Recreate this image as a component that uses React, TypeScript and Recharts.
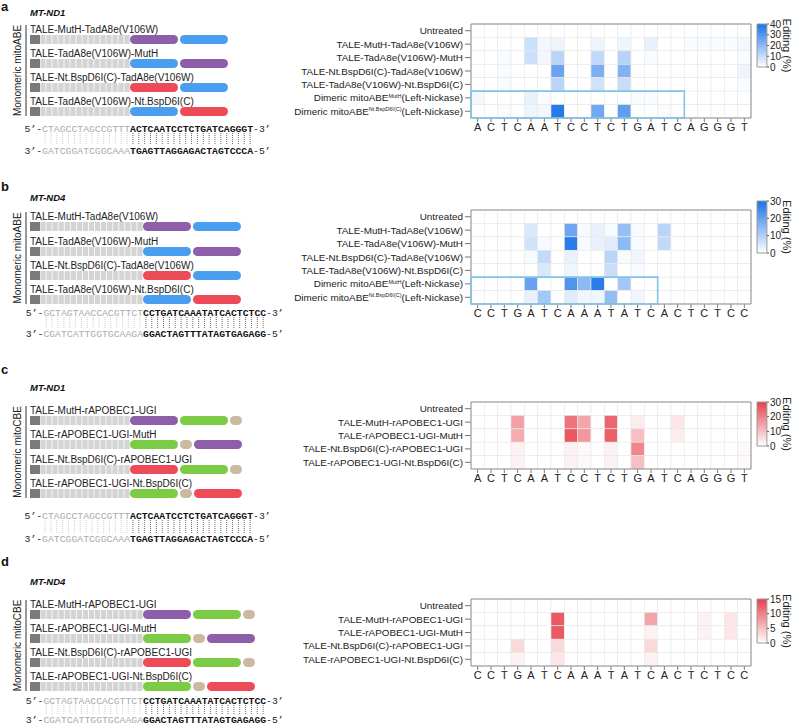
import React from 'react';
import { ScatterChart, Scatter, XAxis, YAxis, ReferenceArea, BarChart, Bar } from 'recharts';

const FONT = '"Liberation Sans", Arial, sans-serif';
const MONO = '"Liberation Mono", "DejaVu Sans Mono", monospace';

// target bases shown under the heatmaps
const basesND1 = ['A', 'C', 'T', 'C', 'A', 'A', 'T', 'C', 'C', 'T', 'C', 'T', 'G', 'A', 'T', 'C', 'A', 'G', 'G', 'G', 'T'];
const basesND4 = ['C', 'C', 'T', 'G', 'A', 'T', 'C', 'A', 'A', 'A', 'T', 'A', 'T', 'C', 'A', 'C', 'T', 'C', 'T', 'C', 'C'];

// row labels ("|" marks the superscript part)
const abeRows = [
  'Untreated',
  'TALE-MutH-TadA8e(V106W)',
  'TALE-TadA8e(V106W)-MutH',
  'TALE-Nt.BspD6I(C)-TadA8e(V106W)',
  'TALE-TadA8e(V106W)-Nt.BspD6I(C)',
  'Dimeric mitoABE|MutH|(Left-Nickase)',
  'Dimeric mitoABE|Nt.BspD6I(C)|(Left-Nickase)',
];
const cbeRows = [
  'Untreated',
  'TALE-MutH-rAPOBEC1-UGI',
  'TALE-rAPOBEC1-UGI-MutH',
  'TALE-Nt.BspD6I(C)-rAPOBEC1-UGI',
  'TALE-rAPOBEC1-UGI-Nt.BspD6I(C)',
];

// domain order of the monomeric constructs
const abeDomains = [['MutH', 'TadA8e'], ['TadA8e', 'MutH'], ['Nt', 'TadA8e'], ['TadA8e', 'Nt']];
const cbeDomains = [['MutH', 'APOBEC', 'UGI'], ['APOBEC', 'UGI', 'MutH'], ['Nt', 'APOBEC', 'UGI'], ['APOBEC', 'UGI', 'Nt']];

// sequences: [TALE-bound part, target window]
const nd1Top = ['CTAGCCTAGCCGTTT', 'ACTCAATCCTCTGATCAGGGT'];
const nd1Bottom = ['GATCGGATCGGCAAA', 'TGAGTTAGGAGACTAGTCCCA'];
const nd4Top = ['GCTAGTAACCACGTTCT', 'CCTGATCAAATATCACTCTCC'];
const nd4Bottom = ['CGATCATTGGTGCAAGA', 'GGACTAGTTTATAGTGAGAGG'];

// editing (%) per row, per base
const editA = [
  [0, 0, 0, 0, 0, 0, 0, 0, 0, 0, 0, 0, 0, 0, 0, 0, 0, 0, 0, 0, 0],
  [0, 0, 0, 0, 9, 2, 3, 0, 0, 3, 0, 3, 0, 4, 0, 0, 1, 1, 1, 1, 2],
  [0, 0, 1, 0, 9, 2, 12, 0, 0, 11, 0, 13, 0, 1, 0, 0, 0, 0, 0, 0, 1],
  [0, 0, 1, 0, 0, 0, 26, 0, 0, 23, 0, 22, 0, 0, 0, 0, 0, 0, 0, 0, 3],
  [0, 0, 1, 0, 0, 0, 12, 0, 0, 8, 0, 10, 0, 0, 0, 0, 0, 0, 0, 0, 1],
  [2, 0, 0, 0, 4, 1, 0, 0, 0, 0, 0, 0, 1, 1, 0, 0, 0, 0, 0, 0, 0],
  [0, 0, 1, 0, 3, 2, 38, 0, 0, 25, 0, 28, 0, 0, 1, 0, 0, 0, 0, 0, 0],
];
const editB = [
  [0, 0, 0, 0, 0, 0, 0, 0, 0, 0, 0, 0, 0, 0, 0, 0, 0, 0, 0, 0, 0],
  [0, 0, 0, 0, 5, 0, 0, 19, 1, 3, 1, 14, 1, 0, 9, 0, 0, 0, 0, 0, 0],
  [0, 0, 0, 0, 6, 1, 0, 28, 1, 3, 4, 15, 1, 0, 8, 0, 0, 0, 0, 0, 0],
  [0, 0, 0, 0, 1, 8, 0, 3, 0, 0, 9, 1, 2, 0, 0, 0, 0, 0, 0, 0, 0],
  [0, 0, 0, 0, 0, 5, 0, 2, 0, 0, 7, 0, 1, 0, 0, 0, 0, 0, 0, 0, 0],
  [0, 0, 0, 0, 20, 0, 0, 23, 15, 28, 0, 12, 0, 0, 0, 0, 0, 0, 0, 0, 0],
  [0, 0, 0, 0, 3, 12, 0, 4, 2, 2, 14, 0, 2, 0, 0, 0, 0, 0, 0, 0, 0],
];
const editC = [
  [0, 0, 0, 0, 0, 0, 0, 0, 0, 0, 0, 0, 0, 0, 0, 0, 0, 0, 0, 0, 0],
  [0, 0, 0, 15, 0, 0, 0, 22, 14, 0, 24, 0, 3, 0, 0, 4, 0, 0, 0, 0, 0],
  [0, 0, 0, 13, 0, 0, 0, 26, 16, 0, 25, 0, 10, 0, 0, 3, 0, 0, 0, 0, 0],
  [0, 0, 0, 2, 0, 0, 0, 2, 1, 0, 2, 0, 19, 0, 0, 0, 0, 0, 0, 0, 1],
  [0, 0, 0, 2, 0, 0, 0, 2, 1, 0, 2, 0, 10, 0, 0, 0, 0, 0, 0, 0, 1],
];
const editD = [
  [0, 0, 0, 0, 0, 0, 0, 0, 0, 0, 0, 0, 0, 0, 0, 0, 0, 0, 0, 0, 0],
  [0, 0, 0, 0, 0, 0, 13, 0, 0, 0, 0, 0, 0, 7, 0, 0, 0, 1, 0, 2, 0],
  [0, 0, 0, 0, 0, 0, 13, 0, 0, 0, 0, 0, 0, 1, 0, 0, 0, 1, 0, 2, 0],
  [0, 0, 0, 3, 0, 0, 3, 0, 0, 0, 0, 0, 0, 3, 0, 0, 0, 0, 0, 0, 0],
  [0, 0, 0, 1, 0, 0, 2, 0, 0, 0, 0, 0, 0, 1, 0, 0, 0, 0, 0, 0, 0],
];

const BLUE = '#1a73e8';
const RED = '#e8404a';

const domainColor: Record<string, string> = {
  MutH: '#8e5ea9',
  TadA8e: '#4a9ef0',
  Nt: '#ee4b58',
  APOBEC: '#7ccb45',
  UGI: '#cdb8a2',
};

const range = (n: number) => Array.from({ length: n }, (_, i) => i);

function shade(t: number, hex: string) {
  const k = Math.max(0, Math.min(1, t));
  const c = [1, 3, 5].map((i) => parseInt(hex.slice(i, i + 2), 16));
  const m = c.map((v) => Math.round(255 + (v - 255) * k));
  return `rgb(${m[0]},${m[1]},${m[2]})`;
}

const PLOT_LEFT = 471;
const PLOT_W = 280;
const CHART_LEFT = 260;

const RowTick = (props: any) => {
  const { x, y, payload, rows } = props;
  const parts = String(rows[payload.value]).split('|');
  return (
    <text x={x} y={y} dy={3.5} textAnchor="end" fontSize={9.9} fill="#222" fontFamily={FONT}>
      {parts[0]}
      {parts.length > 1 && <tspan fontSize={5.5} dy={-3.5}>{parts[1]}</tspan>}
      {parts.length > 1 && <tspan fontSize={9.9} dy={3.5}>{parts[2]}</tspan>}
    </text>
  );
};

function Heatmap({ top, plotH, rows, bases, values, max, color, boxCols }: any) {
  const n = rows.length;
  const cw = PLOT_W / bases.length;
  const ch = plotH / n;
  const data: any[] = [];
  values.forEach((r: number[], yi: number) => r.forEach((v, xi) => data.push({ x: xi, y: yi, v })));
  const yw = PLOT_LEFT - CHART_LEFT;
  return (
    <div style={{ position: 'absolute', left: CHART_LEFT, top: top - 4 }}>
      <ScatterChart width={yw + PLOT_W + 4} height={plotH + 24} margin={{ top: 4, right: 4, bottom: 0, left: 0 }}>
        <XAxis
          type="number"
          dataKey="x"
          domain={[-0.5, bases.length - 0.5]}
          ticks={range(bases.length)}
          interval={0}
          tickFormatter={(i: number) => bases[i]}
          axisLine={false}
          tickSize={4}
          tickMargin={1}
          height={20}
          tick={{ fontSize: 11, fill: '#222', fontFamily: FONT }}
          tickLine={{ stroke: '#777' }}
        />
        <YAxis
          type="number"
          dataKey="y"
          domain={[-0.5, n - 0.5]}
          reversed
          ticks={range(n)}
          interval={0}
          width={yw}
          axisLine={false}
          tickSize={6}
          tickMargin={2}
          tick={<RowTick rows={rows} />}
          tickLine={{ stroke: '#777' }}
        />
        <Scatter
          data={data}
          isAnimationActive={false}
          shape={(p: any) => (
            <rect
              x={p.cx - cw / 2}
              y={p.cy - ch / 2}
              width={cw}
              height={ch}
              fill={shade(p.payload.v / max, color)}
              stroke="#e8e8e8"
              strokeWidth={0.6}
            />
          )}
        />
        <ReferenceArea {...({ zIndex: 1500 } as any)} x1={-0.5} x2={bases.length - 0.5} y1={-0.5} y2={n - 0.5} fill="none" fillOpacity={0} stroke="#8c8c8c" strokeWidth={1} />
        {boxCols ? (
          <ReferenceArea {...({ zIndex: 1600 } as any)} x1={-0.5} x2={boxCols - 0.5} y1={4.5} y2={6.5} fill="none" fillOpacity={0} stroke="#80c4e6" strokeWidth={1.6} />
        ) : null}
      </ScatterChart>
    </div>
  );
}

function ColorBar({ top, h, max, ticks, color, id }: any) {
  return (
    <div style={{ position: 'absolute', left: 756, top: top - 8 }}>
      <BarChart width={51} height={h + 16} data={[{ k: 'e', v: max }]} margin={{ top: 8, right: 0, bottom: 8, left: 0 }} barCategoryGap={0}>
        <defs>
          <linearGradient id={id} x1="0" y1="1" x2="0" y2="0">
            <stop offset="0" stopColor="#ffffff" />
            <stop offset="1" stopColor={color} />
          </linearGradient>
        </defs>
        <XAxis dataKey="k" hide />
        <YAxis
          orientation="right"
          domain={[0, max]}
          ticks={ticks}
          interval={0}
          width={40}
          axisLine={false}
          tickSize={2}
          tickMargin={1}
          tick={{ fontSize: 10, fill: '#222', fontFamily: FONT }}
          tickLine={{ stroke: '#555' }}
          label={{ value: 'Editing (%)', angle: 90, position: 'center', fontSize: 11, fill: '#222', fontFamily: FONT }}
        />
        <Bar dataKey="v" fill={`url(#${id})`} stroke="#999" barSize={11} isAnimationActive={false} />
      </BarChart>
    </div>
  );
}

const CW = 5.86;

function Schematic({ letter, gene, group, letterY, geneY, barTops, taleEnd, labels, domains, top5, bottom3, s5Y, s3Y }: any) {
  const nGray = top5[0].length;
  const total = nGray + top5[1].length;
  const seqX = taleEnd - nGray * CW;
  const sw = (taleEnd - 40) / nGray;
  const lineTop = barTops[0] - 10;
  const lineBottom = barTops[barTops.length - 1] + 9;
  const mid = (lineTop + lineBottom) / 2;
  return (
    <g fontFamily={FONT}>
      <text x={1} y={letterY} fontSize={13} fontWeight="bold" fill="#111">{letter}</text>
      <text x={30} y={geneY} fontSize={9.5} fontWeight="bold" fontStyle="italic" fill="#111">{gene}</text>
      <line x1={26} x2={26} y1={lineTop} y2={lineBottom} stroke="#333" strokeWidth={1} />
      <text x={21} y={mid} fontSize={10} fill="#222" textAnchor="middle" transform={`rotate(-90, 21, ${mid})`}>{group}</text>
      {barTops.map((bt: number, r: number) => {
        let x = taleEnd;
        return (
          <g key={r}>
            <text x={30} y={bt - 2.5} fontSize={10} fill="#222">{labels[r]}</text>
            <rect x={30} y={bt} width={10} height={9} fill="#7a7a7a" />
            {range(nGray).map((i) => (
              <rect key={i} x={40 + i * sw + 0.4} y={bt} width={sw - 0.8} height={9} fill="#d4d4d4" />
            ))}
            {domains[r].map((d: string, j: number) => {
              const w = d === 'UGI' ? 12 : 48;
              const el = <rect key={j} x={x} y={bt} width={w} height={9} rx={4.5} ry={4.5} fill={domainColor[d]} />;
              x += w + 2;
              return el;
            })}
          </g>
        );
      })}
      <text x={seqX - 3 * CW} y={s5Y + 3.5} fontFamily={MONO} fontSize={9.77}>
        <tspan fill="#222">5’-</tspan>
        <tspan fill="#aaa">{top5[0]}</tspan>
        <tspan fill="#111" fontWeight="bold">{top5[1]}</tspan>
        <tspan fill="#222">-3’</tspan>
      </text>
      <text x={seqX - 3 * CW} y={s3Y + 3.5} fontFamily={MONO} fontSize={9.77}>
        <tspan fill="#222">3’-</tspan>
        <tspan fill="#aaa">{bottom3[0]}</tspan>
        <tspan fill="#111" fontWeight="bold">{bottom3[1]}</tspan>
        <tspan fill="#222">-5’</tspan>
      </text>
      {range(total).map((i) => (
        <line
          key={i}
          x1={seqX + (i + 0.5) * CW}
          x2={seqX + (i + 0.5) * CW}
          y1={s5Y + 5}
          y2={s3Y - 5}
          stroke={i < nGray ? '#c4c4c4' : '#444'}
          strokeWidth={0.8}
          strokeDasharray="1 1"
        />
      ))}
    </g>
  );
}

export default function App() {
  return (
    <div style={{ position: 'absolute', left: 0, top: 0, width: 792, height: 727, overflow: 'hidden', background: '#fff', fontFamily: FONT }}>
      <svg width={792} height={727} style={{ position: 'absolute', left: 0, top: 0 }}>
        <Schematic letter="a" gene="MT-ND1" group="Monomeric mitoABE" letterY={11} geneY={16} barTops={[35, 59, 83, 107]} taleEnd={130}
          labels={abeRows.slice(1, 5)} domains={abeDomains} top5={nd1Top} bottom3={nd1Bottom} s5Y={128} s3Y={150} />
        <Schematic letter="b" gene="MT-ND4" group="Monomeric mitoABE" letterY={191} geneY={201} barTops={[222, 247, 271, 295]} taleEnd={143}
          labels={abeRows.slice(1, 5)} domains={abeDomains} top5={nd4Top} bottom3={nd4Bottom} s5Y={312} s3Y={333} />
        <Schematic letter="c" gene="MT-ND1" group="Monomeric mitoCBE" letterY={374} geneY={391} barTops={[416, 440, 465, 489]} taleEnd={130}
          labels={cbeRows.slice(1, 5)} domains={cbeDomains} top5={nd1Top} bottom3={nd1Bottom} s5Y={515} s3Y={538} />
        <Schematic letter="d" gene="MT-ND4" group="Monomeric mitoCBE" letterY={566} geneY={585} barTops={[610, 634, 658, 682]} taleEnd={143}
          labels={cbeRows.slice(1, 5)} domains={cbeDomains} top5={nd4Top} bottom3={nd4Bottom} s5Y={700} s3Y={719} />
      </svg>

      <Heatmap top={24} plotH={94} rows={abeRows} bases={basesND1} values={editA} max={40} color={BLUE} boxCols={16} />
      <ColorBar top={24} h={43} max={40} ticks={[0, 10, 20, 30, 40]} color={BLUE} id="cbA" />

      <Heatmap top={210} plotH={94} rows={abeRows} bases={basesND4} values={editB} max={30} color={BLUE} boxCols={14} />
      <ColorBar top={201} h={52} max={30} ticks={[0, 10, 20, 30]} color={BLUE} id="cbB" />

      <Heatmap top={402} plotH={67} rows={cbeRows} bases={basesND1} values={editC} max={30} color={RED} />
      <ColorBar top={402} h={44} max={30} ticks={[0, 10, 20, 30]} color={RED} id="cbC" />

      <Heatmap top={599} plotH={67} rows={cbeRows} bases={basesND4} values={editD} max={15} color={RED} />
      <ColorBar top={599} h={44} max={15} ticks={[0, 5, 10, 15]} color={RED} id="cbD" />
    </div>
  );
}
